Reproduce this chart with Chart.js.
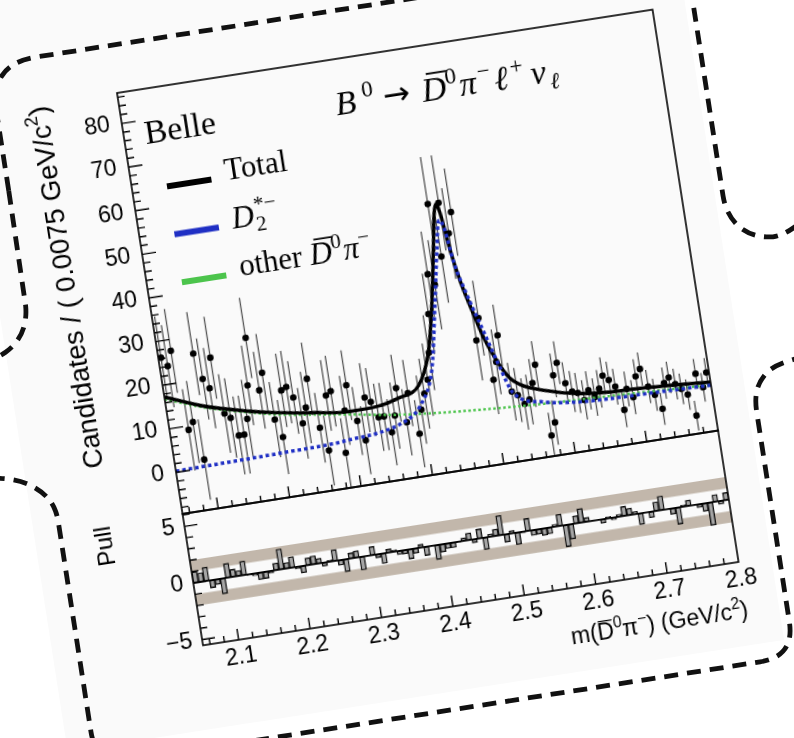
<!DOCTYPE html>
<html lang="en">
<head>
<meta charset="UTF-8">
<title>B0 to D0bar pi- l+ nu mass fit</title>
<script src="https://cdn.jsdelivr.net/npm/chart.js"></script>
<style>
    html, body { margin: 0; padding: 0; background: #fff; }
    body { width: 794px; height: 738px; overflow: hidden; position: relative; }
    #card {
        position: absolute; left: -33px; top: -17px;
        width: 725px; height: 753px;
        background: #fafafa;
        transform-origin: 150px 110px;
        transform: rotate(-8.85deg);
    }
    #deco { position: absolute; left: 0; top: 0; overflow: visible; }
    #mainChart { position: absolute; left: 0; top: 0; }
    #pullChart { position: absolute; left: 0; top: 509px; }
</style>
</head>
<body>
<div id="card">
    <svg id="deco" width="725" height="753">
        <g transform="translate(150,110)" fill="none" stroke="#111" stroke-width="4.8" stroke-dasharray="14 9">
            <path d="M -122,80 L -122,0 Q -122,-48 -74,-48 L 540,-48 Q 583,-48 583,-5 L 583,195 C 583,222 600,241 626,243 C 638,243 648,238 668,226"/>
            <path d="M 640,366 C 620,368 606,370 597,378 C 588,386 583,396 583,414 L 583,626 Q 583,661 548,661 L -90,661 Q -124,661 -124,627 L -124,415 C -124,398 -130,386 -145,375 C -160,364 -180,361 -200,360"/>
            <path d="M -122,80 L -123,196 C -124,214 -132,230 -150,239 C -162,245 -180,248 -200,250"/>
        </g>
    </svg>
    <canvas id="mainChart" width="725" height="563"></canvas>
    <canvas id="pullChart" width="725" height="244"></canvas>
</div>

<script>
    // binning of m(D0bar pi-)
    const binLow = 2.05;
    const binWidth = 0.0075;

    // candidates per bin
    const counts = [
        26.2, 24.1, 27.4, 9.1, 10.7, 1.9, 26.0, 20.0, 17.7, 24.5,
        11.5, 10.3, 6.1, 6.1, 9.5, 17.0, 27.7, 15.5, 19.3, 8.4,
        4.2, 14.7, 15.3, 12.7, 6.6, 10.0, 16.4, 5.0, -0.4, 12.0,
        12.8, -1.5, 8.0, 13.6, 5.2, 0.6, 10.2, 9.0, 5.3, 5.3,
        1.5, 5.1, 11.2, 3.2, 9.7, 0.2, 5.5, 9.0, 12.0, 18.0,
        26.7, 35.6, 33.0, 51.3, 39.1, 51.2, 44.0, 48.7, 19.1, 24.0,
        9.7, 13.6, 19.5, 6.4, 5.4, 3.2, 4.0, 7.6, 11.6, -4.8,
        -2.0, 8.6, 11.3, 6.4, 4.3, 3.8, 2.0, 4.0, 2.3, 4.0,
        6.8, 5.6, 3.9, -1.6, 3.0, 0.9, 5.5, 7.0, 2.8, 0.7,
        -2.7, 3.0, 4.1, 2.4, 1.1, -0.4, -5.4, 4.0, 0.7, 3.9
    ];
    const countErrors = [
        9.5, 9.4, 9.6, 9.3, 9.4, 9.2, 9.5, 9.3, 9.2, 9.4,
        9.0, 9.1, 8.9, 8.9, 9.0, 9.1, 9.2, 8.8, 8.9, 8.6,
        8.5, 8.4, 8.3, 8.3, 8.1, 8.2, 8.3, 8.0, 8.0, 8.1,
        8.1, 7.9, 7.9, 8.0, 7.8, 7.8, 7.9, 7.8, 7.7, 7.7,
        7.6, 7.6, 7.7, 7.6, 7.6, 7.7, 7.8, 8.0, 8.3, 8.6,
        9.2, 9.8, 10.2, 10.8, 10.6, 10.9, 10.4, 10.0, 9.2, 8.6,
        7.9, 7.4, 7.0, 6.6, 6.2, 5.9, 5.7, 5.5, 5.4, 5.2,
        5.1, 5.0, 4.9, 4.8, 4.7, 4.6, 4.5, 4.4, 4.3, 4.3,
        4.2, 4.2, 4.1, 4.0, 4.0, 3.9, 3.9, 3.8, 3.8, 3.7,
        3.7, 3.6, 3.6, 3.5, 3.5, 3.5, 3.4, 3.4, 3.3, 3.3
    ];
    const pulls = [
        0.97, 0.8, 1.2, -0.67, -0.45, -1.34, 1.25, 0.66, 0.47, 1.23,
        -0.09, -0.2, -0.61, -0.58, -0.19, 0.62, 1.78, 0.52, 0.95, -0.17,
        -0.59, 0.64, 0.74, 0.44, -0.3, 0.15, 0.98, -0.44, -1.09, 0.49,
        0.6, -1.16, 0.04, 0.75, -0.3, -0.88, 0.31, 0.16, -0.31, -0.33,
        -0.84, -0.42, 0.29, -0.76, -0.01, -1.26, -0.68, -0.44, -0.44, -0.06,
        0.27, 0.61, -0.3, 0.83, -1.04, 0.22, 0.6, 1.72, -0.69, 0.25,
        -1.04, -0.1, 1.1, -0.46, -0.43, -0.61, -0.55, 0.2, 1.02, -1.89,
        -1.3, 0.67, 1.22, 0.38, 0.07, 0.02, -0.33, 0.13, -0.2, 0.2,
        0.84, 0.6, 0.23, -0.98, 0.05, -0.51, 0.8, 1.24, 0.06, -0.51,
        -1.46, 0.17, 0.51, 0.06, -0.29, -0.69, -2.0, 0.63, -0.29, 0.66
    ];

    // fit components
    const totalMass = [2.05, 2.10, 2.16, 2.20, 2.25, 2.30, 2.34, 2.37, 2.40, 2.42, 2.433, 2.445, 2.452, 2.458, 2.462, 2.466, 2.472, 2.479, 2.489, 2.499, 2.512, 2.526, 2.54, 2.57, 2.615, 2.66, 2.70, 2.75, 2.80];
    const totalFit  = [17.3, 14.0, 11.3, 9.9, 8.6, 7.6, 7.8, 8.9, 11.0, 17.8, 26.7, 37.0, 43.5, 49.0, 51.0, 49.0, 40.2, 33.1, 26.0, 19.6, 13.9, 9.6, 7.6, 5.6, 3.7, 2.9, 2.7, 2.2, 1.6];
    const d2Mass = [2.05, 2.20, 2.29, 2.376, 2.397, 2.42, 2.439, 2.454, 2.4636, 2.469, 2.474, 2.485, 2.50, 2.515, 2.527, 2.567, 2.613, 2.659, 2.70, 2.80];
    const d2Fit  = [0.3, 0.7, 1.2, 3.6, 6.2, 13.2, 28.0, 40.7, 47.3, 44.8, 37.8, 29.9, 21.1, 12.3, 6.3, 3.0, 1.8, 1.4, 1.3, 0.9];
    const otherMass = [2.05, 2.10, 2.16, 2.20, 2.29, 2.37, 2.52, 2.69, 2.80];
    const otherFit  = [16.8, 13.7, 11.0, 9.5, 7.2, 5.1, 3.0, 1.8, 1.0];

    // axes
    const xTicks = [2.1, 2.2, 2.3, 2.4, 2.5, 2.6, 2.7, 2.8];
    const yTicksMain = [0, 10, 20, 30, 40, 50, 60, 70, 80];
    const yTicksPull = [-5, 0, 5];
    const pullBands = [[1, 2], [-2, -1]];

    const blue = '#1f2fc4';
    const green = '#4cc44c';
    const SANS = 'Liberation Sans';
    const SERIF = 'Liberation Serif';

    const binCenters = counts.map((_, i) => binLow + (i + 0.5) * binWidth);

    // --- small rich text helper (sup/sub/overline) ---
    function partFont(p, size, family) {
        let s = (p.sup || p.sub) ? size * 0.68 : size;
        if (p.scale) s *= p.scale;
        return (p.it ? 'italic ' : '') + s.toFixed(1) + 'px "' + (p.family || family) + '"';
    }
    function partsWidth(ctx, parts, size, family) {
        let w = 0;
        parts.forEach(p => {
            ctx.font = partFont(p, size, family);
            if (!p.stay) w += ctx.measureText(p.t).width + (p.gap || 0);
        });
        return w;
    }
    function drawParts(ctx, parts, x, y, size, family, align) {
        let cx = align === 'right' ? x - partsWidth(ctx, parts, size, family) : x;
        ctx.textAlign = 'left';
        ctx.textBaseline = 'alphabetic';
        parts.forEach(p => {
            ctx.font = partFont(p, size, family);
            const dy = p.sup ? -size * 0.42 : (p.sub ? size * 0.22 : (p.dy || 0));
            const w = ctx.measureText(p.t).width;
            ctx.fillText(p.t, cx, y + dy);
            if (p.bar) {
                ctx.save();
                ctx.lineWidth = size * 0.055;
                ctx.beginPath();
                const sk = p.it ? size * 0.12 : 0;
                ctx.moveTo(cx + w * 0.1 + sk, y - size * 0.8);
                ctx.lineTo(cx + w * 0.95 + sk, y - size * 0.8);
                ctx.stroke();
                ctx.restore();
            }
            if (!p.stay) cx += w + (p.gap || 0);
        });
    }

    // inward ROOT-like ticks
    function leftTicks(ctx, scale, area, from, to, step, majors, lenMajor, lenMinor) {
        for (let v = from; v <= to + 1e-9; v += step) {
            const val = Math.round(v * 1000) / 1000;
            const py = scale.getPixelForValue(val);
            if (py < area.top - 0.5 || py > area.bottom + 0.5) continue;
            const len = majors.includes(val) ? lenMajor : lenMinor;
            ctx.moveTo(area.left, py);
            ctx.lineTo(area.left + len, py);
        }
    }
    function bottomTicks(ctx, scale, area, lenMajor, lenMinor) {
        for (let k = 103; k <= 140; k++) {
            const val = k / 50;
            const px = scale.getPixelForValue(val);
            if (px < area.left + 1 || px > area.right - 1) continue;
            const len = (k % 5 === 0) ? lenMajor : lenMinor;
            ctx.moveTo(px, area.bottom);
            ctx.lineTo(px, area.bottom - len);
        }
    }

    const mainDecor = {
        id: 'mainDecor',
        beforeDatasetsDraw(chart) {
            const { ctx, chartArea: a, scales: { x, y } } = chart;
            ctx.save();
            ctx.beginPath();
            ctx.rect(a.left, a.top, a.right - a.left, a.bottom - a.top);
            ctx.clip();
            ctx.strokeStyle = '#555';
            ctx.lineWidth = 1.3;
            ctx.beginPath();
            counts.forEach((c, i) => {
                const px = x.getPixelForValue(binCenters[i]);
                ctx.moveTo(px, y.getPixelForValue(c - countErrors[i]));
                ctx.lineTo(px, y.getPixelForValue(c + countErrors[i]));
            });
            ctx.stroke();
            ctx.restore();
        },
        afterDraw(chart) {
            const { ctx, chartArea: a, scales: { x, y } } = chart;
            ctx.save();
            ctx.strokeStyle = '#000';
            ctx.fillStyle = '#000';
            ctx.lineWidth = 1.6;
            ctx.strokeRect(a.left, a.top, a.right - a.left, a.bottom - a.top);
            ctx.lineWidth = 1.4;
            ctx.beginPath();
            leftTicks(ctx, y, a, -8, 86, 2, yTicksMain, 14, 7);
            bottomTicks(ctx, x, a, 11, 6);
            ctx.stroke();

            // y title
            ctx.save();
            ctx.translate(79, a.top + 1);
            ctx.rotate(-Math.PI / 2);
            drawParts(ctx, [{ t: 'Candidates / ( 0.0075 GeV/c' }, { t: '2', sup: true }, { t: ')' }], 0, 0, 27.5, SANS, 'right');
            ctx.restore();

            // labels
            drawParts(ctx, [{ t: 'Belle' }], a.left + 21, a.top + 55, 34, SERIF, 'left');
            drawParts(ctx, [
                { t: 'B', it: true, gap: 7 }, { t: '0', sup: true, gap: 9 },
                { t: '\u2192', family: 'DejaVu Sans', scale: 0.95, gap: 12, dy: -1 },
                { t: 'D', it: true, bar: true }, { t: '0', sup: true, gap: 2 }, { t: '\u03c0', it: true, gap: 2 },
                { t: '\u2212', sup: true, gap: 3 }, { t: '\u2113', it: true, gap: 3 }, { t: '+', sup: true, gap: 7 },
                { t: '\u03bd', it: true, gap: 3 }, { t: '\u2113', it: true, sub: true }
            ], a.left + 214, a.top + 56, 34, SERIF, 'left');

            // legend
            const entries = [
                { color: '#000', parts: [{ t: 'Total' }] },
                { color: blue, parts: [{ t: 'D', it: true, gap: 1 }, { t: '2', sub: true, stay: true }, { t: '*\u2212', sup: true }] },
                { color: green, parts: [{ t: 'other ' }, { t: 'D', it: true, bar: true }, { t: '0', sup: true, gap: 1 }, { t: '\u03c0', it: true }, { t: '\u2212', sup: true }] }
            ];
            entries.forEach((e, k) => {
                const ly = a.top + 100 + k * 48.5;
                ctx.strokeStyle = e.color;
                ctx.lineWidth = 6;
                ctx.beginPath();
                ctx.moveTo(a.left + 35, ly);
                ctx.lineTo(a.left + 80, ly);
                ctx.stroke();
                ctx.strokeStyle = '#000';
                drawParts(ctx, e.parts, a.left + 94, ly + 3, 31, SERIF, 'left');
            });
            ctx.restore();
        }
    };

    const pullDecor = {
        id: 'pullDecor',
        beforeDatasetsDraw(chart) {
            const { ctx, chartArea: a, scales: { y } } = chart;
            ctx.save();
            ctx.fillStyle = '#c2b7ab';
            pullBands.forEach(b => {
                const y1 = y.getPixelForValue(b[1]);
                const y0 = y.getPixelForValue(b[0]);
                ctx.fillRect(a.left, y1, a.right - a.left, y0 - y1);
            });
            ctx.restore();
        },
        afterDatasetsDraw(chart) {
            const { ctx, chartArea: a, scales: { y } } = chart;
            ctx.save();
            ctx.strokeStyle = '#000';
            ctx.lineWidth = 1.8;
            ctx.beginPath();
            ctx.moveTo(a.left, y.getPixelForValue(0));
            ctx.lineTo(a.right, y.getPixelForValue(0));
            ctx.stroke();
            ctx.restore();
        },
        afterDraw(chart) {
            const { ctx, chartArea: a, scales: { x, y } } = chart;
            ctx.save();
            ctx.strokeStyle = '#000';
            ctx.fillStyle = '#000';
            ctx.lineWidth = 1.6;
            ctx.strokeRect(a.left, a.top, a.right - a.left, a.bottom - a.top);
            ctx.lineWidth = 1.4;
            ctx.beginPath();
            leftTicks(ctx, y, a, -5, 6, 1, yTicksPull, 13, 7);
            bottomTicks(ctx, x, a, 11, 6);
            ctx.stroke();

            ctx.save();
            ctx.translate(76, a.top);
            ctx.rotate(-Math.PI / 2);
            drawParts(ctx, [{ t: 'Pull' }], 0, 0, 24, SANS, 'right');
            ctx.restore();

            drawParts(ctx, [
                { t: 'm(' }, { t: 'D', bar: true }, { t: '0', sup: true }, { t: '\u03c0' }, { t: '\u2212', sup: true },
                { t: ') (GeV/c' }, { t: '2', sup: true }, { t: ')' }
            ], a.right + 2, 216, 23, SANS, 'right');
            ctx.restore();
        }
    };

    const tickFont = { family: SANS, size: 23 };

    new Chart(document.getElementById('mainChart'), {
        type: 'scatter',
        data: {
            datasets: [
                {
                    label: 'Data',
                    data: binCenters.map((m, i) => ({ x: m, y: counts[i] })),
                    pointRadius: 3.3,
                    pointBackgroundColor: '#000',
                    pointBorderWidth: 0,
                    showLine: false,
                    order: 5
                },
                {
                    type: 'line',
                    label: 'other',
                    data: otherMass.map((m, i) => ({ x: m, y: otherFit[i] })),
                    borderColor: green,
                    borderWidth: 2.5,
                    borderDash: [2.5, 2.5],
                    pointRadius: 0,
                    fill: false,
                    cubicInterpolationMode: 'monotone',
                    order: 4
                },
                {
                    type: 'line',
                    label: 'Total',
                    data: totalMass.map((m, i) => ({ x: m, y: totalFit[i] })),
                    borderColor: '#000',
                    borderWidth: 3.5,
                    pointRadius: 0,
                    fill: false,
                    cubicInterpolationMode: 'monotone',
                    order: 2
                },
                {
                    type: 'line',
                    label: 'D2*',
                    data: d2Mass.map((m, i) => ({ x: m, y: d2Fit[i] })),
                    borderColor: blue,
                    borderWidth: 3.5,
                    borderDash: [3.5, 3],
                    pointRadius: 0,
                    fill: false,
                    cubicInterpolationMode: 'monotone',
                    order: 1
                }
            ]
        },
        options: {
            responsive: false,
            animation: false,
            events: [],
            layout: { padding: { left: 0, top: 110, right: 33, bottom: 27 } },
            plugins: { legend: { display: false }, tooltip: { enabled: false } },
            scales: {
                x: { type: 'linear', min: 2.05, max: 2.8, display: false },
                y: {
                    type: 'linear', min: -9.5, max: 87,
                    afterFit(s) { s.width = 150; },
                    afterBuildTicks(s) { s.ticks = yTicksMain.map(v => ({ value: v })); },
                    grid: { display: false, drawTicks: false },
                    border: { display: false },
                    ticks: { padding: 12, color: '#000', font: tickFont, callback: v => String(v) }
                }
            }
        },
        plugins: [mainDecor]
    });

    new Chart(document.getElementById('pullChart'), {
        type: 'bar',
        data: {
            datasets: [{
                label: 'Pull',
                data: binCenters.map((m, i) => ({ x: m, y: pulls[i] })),
                backgroundColor: '#a6a6a6',
                borderColor: '#111',
                borderWidth: 1.4,
                borderSkipped: false,
                barPercentage: 1,
                categoryPercentage: 1
            }]
        },
        options: {
            responsive: false,
            animation: false,
            events: [],
            layout: { padding: { left: 0, top: 27, right: 33, bottom: 0 } },
            plugins: { legend: { display: false }, tooltip: { enabled: false } },
            scales: {
                x: {
                    type: 'linear', min: 2.05, max: 2.8, offset: false,
                    afterFit(s) { s.height = 84; },
                    afterBuildTicks(s) { s.ticks = xTicks.map(v => ({ value: v })); },
                    grid: { display: false, drawTicks: false },
                    border: { display: false },
                    ticks: { padding: 4, color: '#000', font: tickFont, maxRotation: 0, autoSkip: false, callback: v => v.toFixed(1) }
                },
                y: {
                    type: 'linear', min: -5.5, max: 6.1,
                    afterFit(s) { s.width = 150; },
                    afterBuildTicks(s) { s.ticks = yTicksPull.map(v => ({ value: v })); },
                    grid: { display: false, drawTicks: false },
                    border: { display: false },
                    ticks: { padding: 10, color: '#000', font: tickFont, callback: v => (v < 0 ? '\u2212' + Math.abs(v) : String(v)) }
                }
            }
        },
        plugins: [pullDecor]
    });
</script>
</body>
</html>
